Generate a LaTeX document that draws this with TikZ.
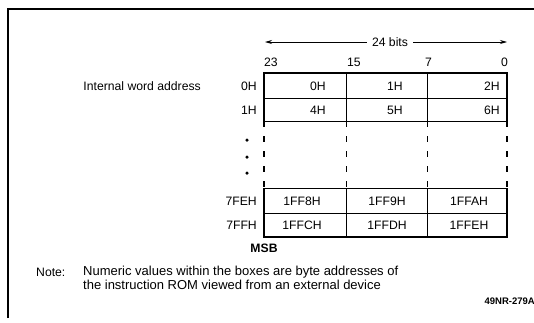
\documentclass[tikz,border=0pt]{standalone}
\usepackage{fontspec}
\setmainfont{Liberation Sans}
\usetikzlibrary{arrows.meta}
\begin{document}
\begin{tikzpicture}[x=1pt,y=-1pt,
  lbl/.style={inner sep=0pt,font=\fontsize{12.2}{14}\selectfont},
  thick box/.style={line width=1.8pt},
  thin box/.style={line width=0.8pt},
  dashy/.style={dash pattern=on 6pt off 9pt}]
\useasboundingbox (0,0) rectangle (534,322);
% frame
\draw[line width=1.2pt] (8,318) -- (8,9) -- (534,9);
% bit width arrow
\node[lbl] (bits) at (390,42) {24 bits};
\coordinate (bl) at (265,42);
\coordinate (br) at (507,42);
\draw[-{Stealth[length=7pt,width=4pt]},line width=0.8pt] ([xshift=-5pt]bits.west) -- (bl);
\draw[-{Stealth[length=7pt,width=4pt]},line width=0.8pt] ([xshift=5pt]bits.east) -- (br);
% bit numbers
\node[lbl,anchor=west] (b23) at (264,62) {23};
\node[lbl,anchor=west] (b15) at (347,62) {15};
\node[lbl,anchor=west] (b7) at (425,62) {7};
\node[lbl,anchor=east] (b0) at (508,62) {0};
% upper block
\draw[thin box] (264,98) -- (507,98);
\draw[thin box] (346,73) -- (346,121) (427,73) -- (427,121);
\draw[thick box] (264,121) -- (264,73) -- (507,73) -- (507,121);
\draw[thin box] (264,121) -- (507,121);
% dashed part
\draw[thick box,dashy] (264,121) -- (264,188);
\draw[thick box,dashy] (507,121) -- (507,188);
\draw[thin box,dashy] (346,121) -- (346,188);
\draw[thin box,dashy] (427,121) -- (427,188);
% lower block
\draw[thin box] (264,188) -- (507,188);
\draw[thin box] (264,213) -- (507,213);
\draw[thin box] (346,188) -- (346,237) (427,188) -- (427,237);
\draw[thick box] (264,188) -- (264,237) -- (507,237) -- (507,188);
% labels left
\node[lbl,anchor=east] (iwa) at (201,86) {Internal word address};
\node[lbl,anchor=east] (r0) at (257,86) {0H};
\node[lbl,anchor=east] (r1) at (257,110) {1H};
\node[lbl,anchor=east] (r2) at (257,201) {7FEH};
\node[lbl,anchor=east] (r3) at (257,225) {7FFH};
\foreach \y/\n in {140/d1,157/d2,173/d3}
  \node[circle,fill,inner sep=0pt,minimum size=3.5pt] (\n) at (247,\y) {};
% cell values
\node[lbl,anchor=east] (c00) at (326,86) {0H};
\node[lbl,anchor=east] (c01) at (403,86) {1H};
\node[lbl,anchor=east] (c02) at (500,86) {2H};
\node[lbl,anchor=east] (c10) at (326,110) {4H};
\node[lbl,anchor=east] (c11) at (403,110) {5H};
\node[lbl,anchor=east] (c12) at (500,110) {6H};
\node[lbl] (c20) at (302,201) {1FF8H};
\node[lbl] (c21) at (387,201) {1FF9H};
\node[lbl] (c22) at (469,201) {1FFAH};
\node[lbl] (c30) at (302,225) {1FFCH};
\node[lbl] (c31) at (387,225) {1FFDH};
\node[lbl] (c32) at (469,225) {1FFEH};
\node[lbl,font=\fontsize{12.2}{14}\selectfont\bfseries] (msb) at (264,248) {MSB};
% note
\node[lbl,anchor=west] (note) at (36,272) {Note:};
\node[lbl,anchor=north west,align=left,font=\fontsize{13}{13.5}\selectfont] (notetext) at (83,266)
  {Numeric values within the boxes are byte addresses of\\the instruction ROM viewed from an external device};
\node[inner sep=0pt,anchor=east,font=\fontsize{9.5}{10}\selectfont\bfseries] (code) at (535,301) {49NR-279A};
\end{tikzpicture}
\end{document}
